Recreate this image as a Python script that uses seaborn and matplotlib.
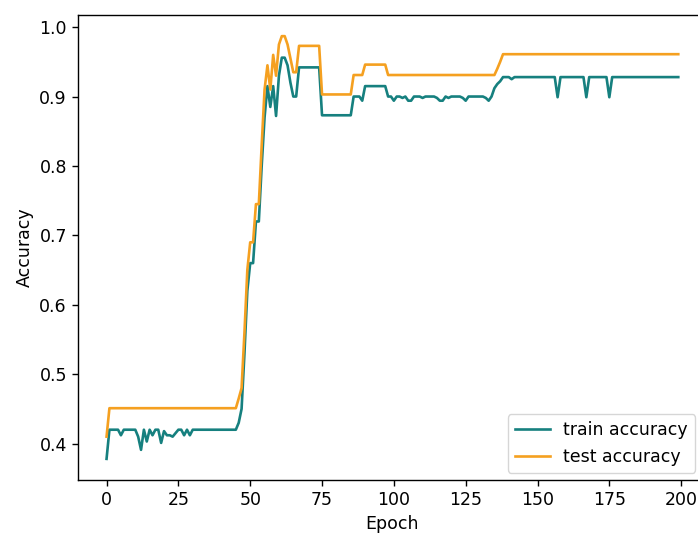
import matplotlib
matplotlib.use("Agg")
import matplotlib.pyplot as plt
import seaborn as sns
import pandas as pd

# valeurs (200 époques)
train_acc = [
    0.378, 0.42, 0.42, 0.42, 0.42, 0.412, 0.42, 0.42, 0.42, 0.42,
    0.42, 0.41, 0.391, 0.42, 0.403, 0.42, 0.412, 0.42, 0.42, 0.401,
    0.418, 0.412, 0.412, 0.41, 0.415, 0.42, 0.42, 0.412, 0.42, 0.412,
    0.42, 0.42, 0.42, 0.42, 0.42, 0.42, 0.42, 0.42, 0.42, 0.42,
    0.42, 0.42, 0.42, 0.42, 0.42, 0.42, 0.43, 0.45, 0.53, 0.62,
    0.66, 0.66, 0.72, 0.72, 0.80, 0.87, 0.915, 0.885, 0.915, 0.872,
    0.93, 0.956, 0.956, 0.945, 0.92, 0.90, 0.90, 0.942, 0.942, 0.942,
    0.942, 0.942, 0.942, 0.942, 0.942, 0.873, 0.873, 0.873, 0.873, 0.873,
    0.873, 0.873, 0.873, 0.873, 0.873, 0.873, 0.90, 0.90, 0.90, 0.894,
    0.915, 0.915, 0.915, 0.915, 0.915, 0.915, 0.915, 0.915, 0.90, 0.90,
    0.894, 0.90, 0.90, 0.898, 0.90, 0.894, 0.894, 0.90, 0.90, 0.90,
    0.898, 0.90, 0.90, 0.90, 0.90, 0.898, 0.894, 0.894, 0.90, 0.898,
    0.90, 0.90, 0.90, 0.90, 0.898, 0.894, 0.90, 0.90, 0.90, 0.90,
    0.90, 0.90, 0.898, 0.894, 0.90, 0.912, 0.918, 0.922, 0.928, 0.928,
    0.928, 0.925, 0.928, 0.928, 0.928, 0.928, 0.928, 0.928, 0.928, 0.928,
    0.928, 0.928, 0.928, 0.928, 0.928, 0.928, 0.928, 0.899, 0.928, 0.928,
    0.928, 0.928, 0.928, 0.928, 0.928, 0.928, 0.928, 0.899, 0.928, 0.928,
    0.928, 0.928, 0.928, 0.928, 0.928, 0.899, 0.928, 0.928, 0.928, 0.928,
    0.928, 0.928, 0.928, 0.928, 0.928, 0.928, 0.928, 0.928, 0.928, 0.928,
    0.928, 0.928, 0.928, 0.928, 0.928, 0.928, 0.928, 0.928, 0.928, 0.928,
]

test_acc = [
    0.41, 0.451, 0.451, 0.451, 0.451, 0.451, 0.451, 0.451, 0.451, 0.451,
    0.451, 0.451, 0.451, 0.451, 0.451, 0.451, 0.451, 0.451, 0.451, 0.451,
    0.451, 0.451, 0.451, 0.451, 0.451, 0.451, 0.451, 0.451, 0.451, 0.451,
    0.451, 0.451, 0.451, 0.451, 0.451, 0.451, 0.451, 0.451, 0.451, 0.451,
    0.451, 0.451, 0.451, 0.451, 0.451, 0.451, 0.465, 0.48, 0.56, 0.65,
    0.69, 0.69, 0.745, 0.745, 0.83, 0.91, 0.945, 0.91, 0.96, 0.93,
    0.975, 0.987, 0.987, 0.975, 0.955, 0.935, 0.935, 0.973, 0.973, 0.973,
    0.973, 0.973, 0.973, 0.973, 0.973, 0.903, 0.903, 0.903, 0.903, 0.903,
    0.903, 0.903, 0.903, 0.903, 0.903, 0.903, 0.931, 0.931, 0.931, 0.931,
    0.946, 0.946, 0.946, 0.946, 0.946, 0.946, 0.946, 0.946, 0.931, 0.931,
    0.931, 0.931, 0.931, 0.931, 0.931, 0.931, 0.931, 0.931, 0.931, 0.931,
    0.931, 0.931, 0.931, 0.931, 0.931, 0.931, 0.931, 0.931, 0.931, 0.931,
    0.931, 0.931, 0.931, 0.931, 0.931, 0.931, 0.931, 0.931, 0.931, 0.931,
    0.931, 0.931, 0.931, 0.931, 0.931, 0.931, 0.94, 0.95, 0.961, 0.961,
    0.961, 0.961, 0.961, 0.961, 0.961, 0.961, 0.961, 0.961, 0.961, 0.961,
    0.961, 0.961, 0.961, 0.961, 0.961, 0.961, 0.961, 0.961, 0.961, 0.961,
    0.961, 0.961, 0.961, 0.961, 0.961, 0.961, 0.961, 0.961, 0.961, 0.961,
    0.961, 0.961, 0.961, 0.961, 0.961, 0.961, 0.961, 0.961, 0.961, 0.961,
    0.961, 0.961, 0.961, 0.961, 0.961, 0.961, 0.961, 0.961, 0.961, 0.961,
    0.961, 0.961, 0.961, 0.961, 0.961, 0.961, 0.961, 0.961, 0.961, 0.961,
]

epochs = list(range(len(train_acc)))
y_ticks = [0.4, 0.5, 0.6, 0.7, 0.8, 0.9, 1.0]
x_ticks = [0, 25, 50, 75, 100, 125, 150, 175, 200]

df = pd.DataFrame({"Epoch": epochs, "train": train_acc, "test": test_acc})

plt.rcParams["font.family"] = ["DejaVu Sans"]
plt.rcParams["font.size"] = 12.5

fig = plt.figure(figsize=(6.98, 5.38), dpi=100)
# l'image d'origine est rognée : la bordure droite sort du cadre
ax = fig.add_axes([0.1117, 0.1078, 0.901, 0.8643])

sns.lineplot(data=df, x="Epoch", y="train", ax=ax, color="#16807f",
             linewidth=1.9, label="train accuracy")
sns.lineplot(data=df, x="Epoch", y="test", ax=ax, color="#f5a020",
             linewidth=1.9, label="test accuracy")

ax.set_xticks(x_ticks)
ax.set_yticks(y_ticks)
ax.set_xlabel("Epoch")
ax.set_ylabel("Accuracy")
ax.tick_params(length=4.4, width=1.0)
for sp in ax.spines.values():
    sp.set_linewidth(1.0)

ax.legend(loc="lower right", bbox_to_anchor=(695 / 698, 1 - 472.7 / 538),
          bbox_transform=fig.transFigure, borderaxespad=0)

fig.savefig("out.png", dpi=100)
